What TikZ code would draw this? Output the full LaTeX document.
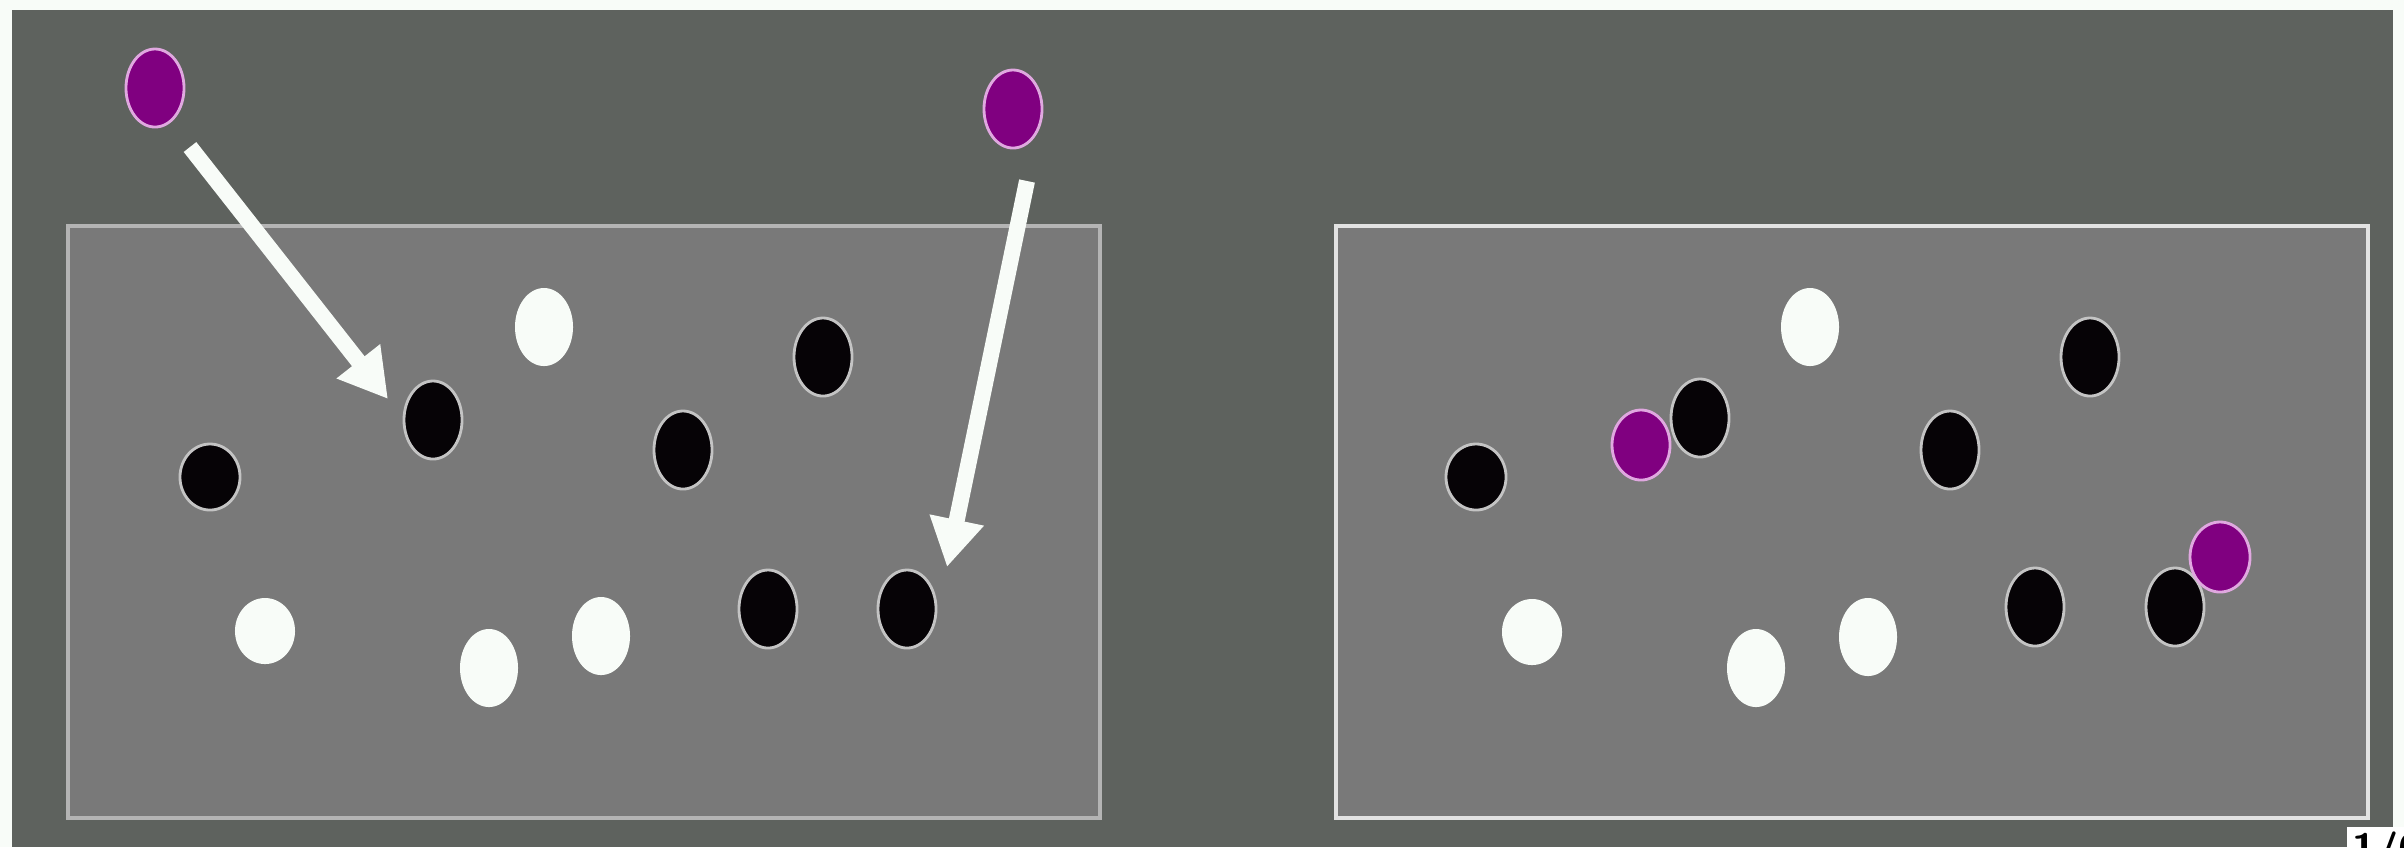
\documentclass[tikz,border=0pt]{standalone}
\usetikzlibrary{shapes.geometric,arrows.meta}
\definecolor{bgwhite}{HTML}{F8FCF8}
\definecolor{outer}{HTML}{5E625E}
\definecolor{panel}{HTML}{797979}
\definecolor{pborderL}{HTML}{B4B4B4}
\definecolor{pborderR}{HTML}{E2E2E2}
\definecolor{purp}{HTML}{800080}
\definecolor{purpedge}{HTML}{E0A8E0}
\definecolor{blk}{HTML}{060306}
\definecolor{wht}{HTML}{F8FCF8}
\definecolor{edge}{HTML}{C4C4C4}
\begin{document}
\begin{tikzpicture}[x=0.01cm,y=-0.01cm,
  dot/.style={ellipse,inner sep=0pt,minimum width=0.58cm,minimum height=0.78cm,line width=0.8pt},
  bdot/.style={dot,fill=blk,draw=edge},
  wdot/.style={dot,fill=wht},
  pdot/.style={dot,fill=purp,draw=purpedge},
  roundish/.style={minimum width=0.6cm,minimum height=0.66cm},
  arr/.style={draw=wht,line width=0.16cm,-{Triangle[width=0.52cm,length=0.48cm]}},
  panelL/.style={draw=pborderL,fill=panel,line width=1.1pt},
  panelR/.style={draw=pborderR,fill=panel,line width=1.1pt},
  pagebox/.style={fill=white,inner sep=1.5pt,anchor=north west,font=\sffamily\bfseries\fontsize{12}{13}\selectfont}
]
\useasboundingbox (0,0) rectangle (2404,847);
\clip (0,0) rectangle (2404,847);
\fill[bgwhite] (0,0) rectangle (2404,847);
\fill[outer] (12,10) rectangle (2393,847);

% panels
\draw[panelL] (68,226) rectangle (1100,818);
\draw[panelR] (1336,226) rectangle (2368,818);

% ---- left panel ----
\node[pdot] (p1) at (155,88) {};
\node[pdot] (p2) at (1013,109) {};
\node[wdot] (lw1) at (544,327) {};
\node[bdot] (lb1) at (433,420) {};
\node[bdot] (lb2) at (683,450) {};
\node[bdot] (lb3) at (823,357) {};
\node[bdot,roundish] (lb4) at (210,477) {};
\node[wdot,roundish] (lw2) at (265,631) {};
\node[wdot] (lw3) at (489,668) {};
\node[wdot] (lw4) at (601,636) {};
\node[bdot] (lb5) at (768,609) {};
\node[bdot] (lb6) at (907,609) {};

\coordinate (a1s) at (190,147);
\coordinate (a1e) at (388,399);
\coordinate (a2s) at (1027,181);
\coordinate (a2e) at (947,567);
\draw[arr] (a1s) -- (a1e);
\draw[arr] (a2s) -- (a2e);

% ---- right panel ----
\node[bdot,roundish] (rb4) at (1476,477) {};
\node[bdot] (rb1) at (1700,418) {};
\node[pdot,minimum height=0.7cm] (rp1) at (1641,445) {};
\node[wdot] (rw1) at (1810,327) {};
\node[bdot] (rb3) at (2090,357) {};
\node[bdot] (rb2) at (1950,450) {};
\node[wdot,roundish] (rw2) at (1532,632) {};
\node[wdot] (rw3) at (1756,668) {};
\node[wdot] (rw4) at (1868,637) {};
\node[bdot] (rb5) at (2035,607) {};
\node[bdot] (rb6) at (2175,607) {};
\node[pdot,minimum height=0.7cm,minimum width=0.6cm] (rp2) at (2220,557) {};

% page number (cut off at the border, as in the reference)
\node[pagebox] (pg) at (2346,826) {1/6};
\end{tikzpicture}
\end{document}
